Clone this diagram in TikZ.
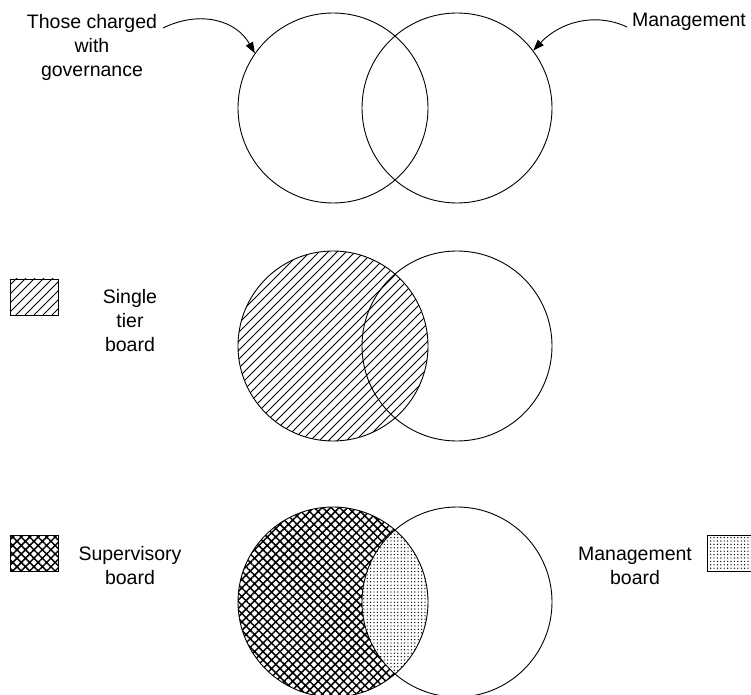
\documentclass[tikz,border=0pt]{standalone}
\usepackage{fontspec}
\setmainfont{Liberation Sans}
\usetikzlibrary{arrows.meta,patterns.meta}
\begin{document}
\begin{tikzpicture}[x=1pt,y=1pt,
  venn/.style={circle,draw,line width=0.9pt,inner sep=0pt,minimum size=190pt},
  lbl/.style={align=center,font=\fontsize{19.5}{24}\selectfont,inner sep=0pt},
  legbox/.style={draw,line width=0.9pt},
  hline/.style={line width=0.85pt},
  hatchX/.style={pattern={Hatch[angle=45,distance=6pt,line width=1.5pt]}},
  dotsP/.style={pattern={Dots[distance=3.4pt,radius=0.7pt]}},
  arr/.style={line width=0.9pt,-{Triangle[length=11pt,width=8pt]}}]
\useasboundingbox (0,0) rectangle (751,694);
% ---- fills ----
\begin{scope}
  \clip (333,348) circle (95);
  \foreach \d in {-234,-225,...,234}
    \draw[hline] (333+\d-120,348-120) -- (333+\d+120,348+120);
\end{scope}
\fill[hatchX] (333,92) circle (95);
\begin{scope}
  \clip (333,92) circle (95);
  \fill[white] (457,92) circle (95);
  \fill[dotsP] (457,92) circle (95);
\end{scope}
% ---- circles ----
\node[venn] (c1) at (333,586) {};
\node[venn] (c2) at (457,586) {};
\node[venn] (m1) at (333,348) {};
\node[venn] (m2) at (457,348) {};
\node[venn] (b1) at (333,92) {};
\node[venn] (b2) at (457,92) {};
% ---- top labels and arrows ----
\node[lbl] (tcwg) at (92,647) {Those charged\\with\\governance};
\node[lbl] (mgmt) at (689,672) {Management};
\coordinate (a1) at (163,666);
\coordinate (a2) at (627,667);
\draw[arr] (a1) .. controls (200,684) and (236,674) .. (c1.145);
\draw[arr] (a2) .. controls (595,682) and (560,672) .. (c2.37);
% ---- legends ----
\begin{scope}
  \clip (10,379) rectangle (58,415);
  \foreach \d in {-54,-45,...,54}
    \draw[hline] (34+\d-30,397-30) -- (34+\d+30,397+30);
\end{scope}
\draw[legbox] (10,379) rectangle (58,415);
\node[lbl] (stb) at (130,373) {Single\\tier\\board};
\draw[legbox,hatchX] (10,123) rectangle (58,159);
\node[lbl] (sb) at (130,128) {Supervisory\\board};
\draw[legbox,dotsP] (707,123) rectangle (760,159);
\node[lbl] (mb) at (635,128) {Management\\board};
\end{tikzpicture}
\end{document}
